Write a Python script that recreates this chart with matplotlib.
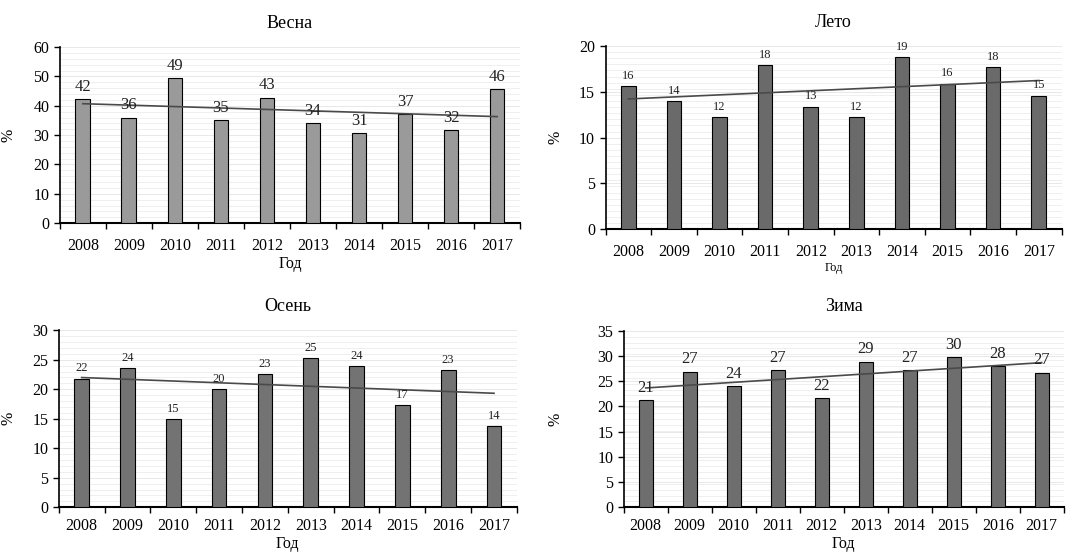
import matplotlib
matplotlib.use("Agg")
import matplotlib.pyplot as plt
import numpy as np
from matplotlib.ticker import MultipleLocator, FixedLocator

plt.rcParams["font.family"] = ["Liberation Serif", "DejaVu Serif"]

# Данные
years = ["2008", "2009", "2010", "2011", "2012", "2013", "2014", "2015", "2016", "2017"]
vesna = [42.2, 36.0, 49.6, 35.0, 42.8, 34.2, 30.6, 37.2, 31.8, 45.8]
leto = [15.6, 14.0, 12.2, 17.9, 13.4, 12.2, 18.8, 15.9, 17.7, 14.6]
osen = [21.8, 23.6, 15.0, 20.0, 22.6, 25.3, 23.9, 17.3, 23.2, 13.8]
zima = [21.3, 26.9, 24.1, 27.2, 21.6, 28.9, 27.2, 29.8, 28.0, 26.7]

vesna_labels = ["42", "36", "49", "35", "43", "34", "31", "37", "32", "46"]
leto_labels = ["16", "14", "12", "18", "13", "12", "19", "16", "18", "15"]
osen_labels = ["22", "24", "15", "20", "23", "25", "24", "17", "23", "14"]
zima_labels = ["21", "27", "24", "27", "22", "29", "27", "30", "28", "27"]

fig = plt.figure(figsize=(10.68, 5.55), dpi=100)

panels = [
    # title, values, labels, ymax, ystep, color, pos, label font, xlabel font, ylabel x, tick pad
    ("Весна", vesna, vesna_labels, 60, 10, "#9a9a9a", [0.056, 0.598, 0.431, 0.317], 12, 11.5, -0.093, 11),
    ("Лето", leto, leto_labels, 20, 5, "#6a6a6a", [0.567, 0.587, 0.427, 0.330], 9, 9, -0.092, 11),
    ("Осень", osen, osen_labels, 30, 5, "#737373", [0.055, 0.086, 0.429, 0.319], 9, 11.5, -0.092, 8),
    ("Зима", zima, zima_labels, 35, 5, "#6e6e6e", [0.584, 0.086, 0.412, 0.318], 12, 11.5, -0.136, 8),
]

x = np.arange(len(years))
for title, vals, labs, ymax, ystep, color, pos, lfs, xfs, ylx, tpad in panels:
    ax = fig.add_axes(pos)
    ax.bar(x, vals, width=0.32, color=color, edgecolor="black", linewidth=0.8, zorder=3)
    for xi, v, t in zip(x, vals, labs):
        ax.annotate(t, (xi, v), xytext=(0, 3), textcoords="offset points",
                    ha="center", va="bottom", fontsize=lfs, color="#222222", zorder=5)
    # линейный тренд
    fit = np.polyfit(x, vals, 1)
    trend = np.poly1d(fit)
    ax.plot(x, trend(x), color="#4a4a4a", linewidth=1.2, zorder=4)

    ax.set_xlim(-0.5, len(years) - 0.5)
    ax.set_ylim(0, ymax)
    ax.yaxis.set_major_locator(MultipleLocator(ystep))
    ax.yaxis.set_minor_locator(MultipleLocator(ymax / 30))
    ax.grid(which="minor", axis="y", color="#ececec", linewidth=0.6, zorder=0)
    ax.grid(which="major", axis="y", color="#e4e4e4", linewidth=0.6, zorder=0)
    ax.tick_params(axis="y", which="minor", length=0)
    ax.tick_params(axis="y", which="major", length=4, width=1, labelsize=11.5, direction="out")

    ax.xaxis.set_major_locator(FixedLocator(np.arange(-0.5, len(years), 1.0)))
    ax.xaxis.set_minor_locator(FixedLocator(x))
    ax.set_xticklabels([], minor=False)
    ax.set_xticklabels(years, minor=True)
    ax.tick_params(axis="x", which="major", length=4, width=1, direction="out")
    ax.tick_params(axis="x", which="minor", length=0, labelsize=11.5, pad=tpad)

    for s in ["top", "right"]:
        ax.spines[s].set_visible(False)
    ax.spines["left"].set_linewidth(1.2)
    ax.spines["bottom"].set_linewidth(1.5)

    ax.set_title(title, fontsize=13, pad=14)
    ax.set_xlabel("Год", fontsize=xfs, labelpad=1)
    ax.set_ylabel("%", fontsize=11.5)
    ax.yaxis.set_label_coords(ylx, 0.5)

fig.savefig("out.png", dpi=100, facecolor="white")
